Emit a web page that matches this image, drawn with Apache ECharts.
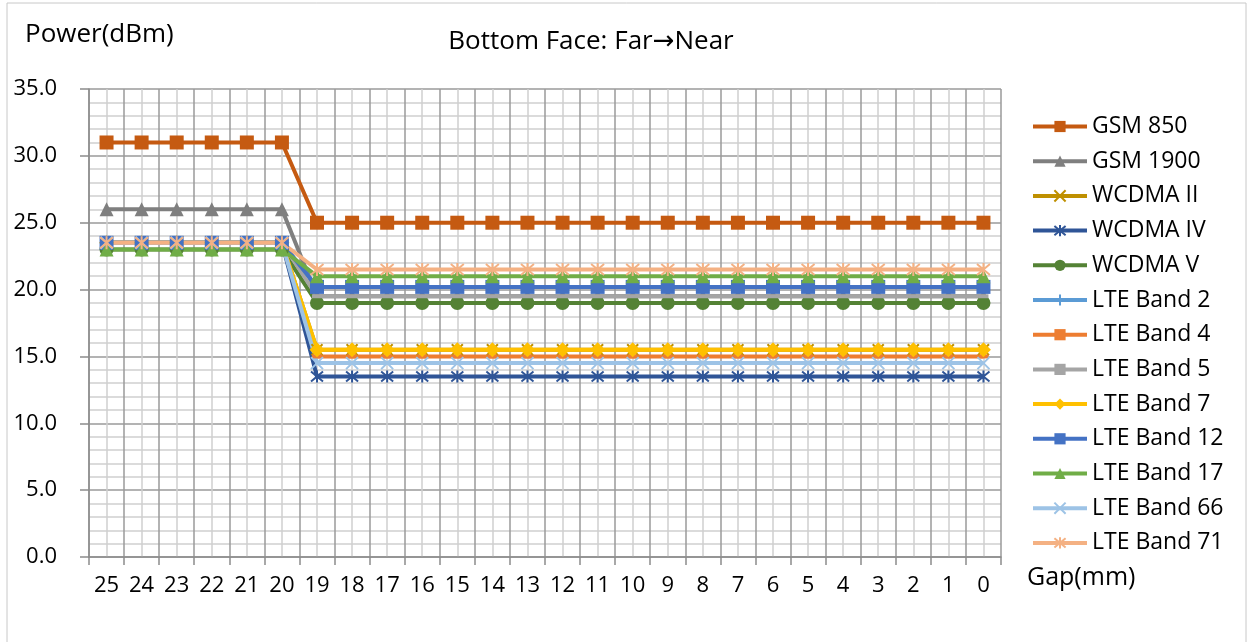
<!DOCTYPE html>
<html>
<head>
<meta charset="utf-8">
<script src="https://cdn.jsdelivr.net/npm/echarts@6/dist/echarts.min.js"></script>
<style>
    html, body { margin: 0; padding: 0; background: #fff; }
    #chart { width: 1253px; height: 642px; }
</style>
</head>
<body>
<div id="chart"></div>
<script>
// x categories, far -> near
var gaps = ['25', '24', '23', '22', '21', '20', '19', '18', '17', '16', '15', '14', '13',
    '12', '11', '10', '9', '8', '7', '6', '5', '4', '3', '2', '1', '0'];
var yTicks = [0, 5, 10, 15, 20, 25, 30, 35];

// power values (dBm), one per gap
var gsm850 = [31, 31, 31, 31, 31, 31, 25, 25, 25, 25, 25, 25, 25, 25, 25, 25, 25, 25, 25, 25, 25, 25, 25, 25, 25, 25];
var gsm1900 = [26, 26, 26, 26, 26, 26, 19.5, 19.5, 19.5, 19.5, 19.5, 19.5, 19.5, 19.5, 19.5, 19.5, 19.5, 19.5, 19.5, 19.5, 19.5, 19.5, 19.5, 19.5, 19.5, 19.5];
var wcdma2 = [23.5, 23.5, 23.5, 23.5, 23.5, 23.5, 15.5, 15.5, 15.5, 15.5, 15.5, 15.5, 15.5, 15.5, 15.5, 15.5, 15.5, 15.5, 15.5, 15.5, 15.5, 15.5, 15.5, 15.5, 15.5, 15.5];
var wcdma4 = [23.5, 23.5, 23.5, 23.5, 23.5, 23.5, 13.5, 13.5, 13.5, 13.5, 13.5, 13.5, 13.5, 13.5, 13.5, 13.5, 13.5, 13.5, 13.5, 13.5, 13.5, 13.5, 13.5, 13.5, 13.5, 13.5];
var wcdma5 = [23, 23, 23, 23, 23, 23, 19, 19, 19, 19, 19, 19, 19, 19, 19, 19, 19, 19, 19, 19, 19, 19, 19, 19, 19, 19];
var lte2 = [23.5, 23.5, 23.5, 23.5, 23.5, 23.5, 20.2, 20.2, 20.2, 20.2, 20.2, 20.2, 20.2, 20.2, 20.2, 20.2, 20.2, 20.2, 20.2, 20.2, 20.2, 20.2, 20.2, 20.2, 20.2, 20.2];
var lte4 = [23.5, 23.5, 23.5, 23.5, 23.5, 23.5, 15, 15, 15, 15, 15, 15, 15, 15, 15, 15, 15, 15, 15, 15, 15, 15, 15, 15, 15, 15];
var lte5 = [23.5, 23.5, 23.5, 23.5, 23.5, 23.5, 19.5, 19.5, 19.5, 19.5, 19.5, 19.5, 19.5, 19.5, 19.5, 19.5, 19.5, 19.5, 19.5, 19.5, 19.5, 19.5, 19.5, 19.5, 19.5, 19.5];
var lte7 = [23.5, 23.5, 23.5, 23.5, 23.5, 23.5, 15.5, 15.5, 15.5, 15.5, 15.5, 15.5, 15.5, 15.5, 15.5, 15.5, 15.5, 15.5, 15.5, 15.5, 15.5, 15.5, 15.5, 15.5, 15.5, 15.5];
var lte12 = [23.5, 23.5, 23.5, 23.5, 23.5, 23.5, 20.2, 20.2, 20.2, 20.2, 20.2, 20.2, 20.2, 20.2, 20.2, 20.2, 20.2, 20.2, 20.2, 20.2, 20.2, 20.2, 20.2, 20.2, 20.2, 20.2];
var lte17 = [23, 23, 23, 23, 23, 23, 21, 21, 21, 21, 21, 21, 21, 21, 21, 21, 21, 21, 21, 21, 21, 21, 21, 21, 21, 21];
var lte66 = [23.5, 23.5, 23.5, 23.5, 23.5, 23.5, 14.5, 14.5, 14.5, 14.5, 14.5, 14.5, 14.5, 14.5, 14.5, 14.5, 14.5, 14.5, 14.5, 14.5, 14.5, 14.5, 14.5, 14.5, 14.5, 14.5];
var lte71 = [23.5, 23.5, 23.5, 23.5, 23.5, 23.5, 21.5, 21.5, 21.5, 21.5, 21.5, 21.5, 21.5, 21.5, 21.5, 21.5, 21.5, 21.5, 21.5, 21.5, 21.5, 21.5, 21.5, 21.5, 21.5, 21.5];

var FONT = '"Open Sans", "DejaVu Sans", sans-serif';
var SYM_X = 'path://M0,0L10,10M10,0L0,10';
var SYM_PLUS = 'path://M5,0L5,10M0,5L10,5';
var SYM_STAR = 'path://M0,0L10,10M10,0L0,10M5,-1L5,11';

//系列定义
var mkSeries = function (name, data, color, symbol, size, stroke) {
    var s = {
        name: name,
        type: 'line',
        data: data,
        symbol: symbol,
        symbolSize: size,
        showSymbol: true,
        lineStyle: {color: color, width: 4},
        itemStyle: {color: color},
        emphasis: {disabled: true},
        animation: false
    };
    if (stroke) {
        s.itemStyle = {color: color, borderColor: color, borderWidth: 2};
    }
    return s;
};

var chart = echarts.init(document.getElementById('chart'));
chart.setOption({
    animation: false,
    grid: {left: 89, right: 252, top: 89, bottom: 85, containLabel: false},
    graphic: [
        {type: 'rect', shape: {x: 7, y: 3, width: 1239, height: 660},
            style: {fill: 'none', stroke: '#c8c8c8', lineWidth: 1}, silent: true},
        {type: 'text', x: 591, y: 42, style: {text: 'Bottom Face: Far\u2192Near', font: '26px ' + FONT,
            fill: '#000', textAlign: 'center', textVerticalAlign: 'middle'}},
        {type: 'text', x: 25, y: 35, style: {text: 'Power(dBm)', font: '26px ' + FONT,
            fill: '#000', textAlign: 'left', textVerticalAlign: 'middle'}},
        {type: 'text', x: 1027, y: 578, style: {text: 'Gap(mm)', font: '25px ' + FONT,
            fill: '#000', textAlign: 'left', textVerticalAlign: 'middle'}}
    ],
    legend: {
        orient: 'vertical',
        left: 1026,
        top: 110,
        itemWidth: 54,
        itemHeight: 14,
        itemGap: 11.7,
        lineStyle: {width: 4},
        textStyle: {fontFamily: FONT, fontSize: 23, color: '#000', lineHeight: 23, padding: [0, 0, 0, 0]},
        selectedMode: false
    },
    xAxis: [{
        type: 'category',
        data: gaps,
        boundaryGap: true,
        axisLine: {lineStyle: {color: '#8c8c8c', width: 1.5}},
        axisTick: {show: true, length: 8, lineStyle: {color: '#8c8c8c', width: 1.5}},
        axisLabel: {fontFamily: FONT, fontSize: 22, color: '#000', margin: 18, interval: 0},
        splitLine: {show: false}
    }, {
        // 网格线用
        type: 'value',
        min: 0,
        max: 26,
        interval: 1,
        position: 'bottom',
        axisLine: {show: false},
        axisTick: {show: false},
        axisLabel: {show: false},
        splitLine: {show: true, lineStyle: {color: '#9a9a9a', width: 1.5}},
        minorTick: {show: false, splitNumber: 2},
        minorSplitLine: {show: true, lineStyle: {color: '#d0d0d0', width: 1.5}}
    }],
    yAxis: {
        type: 'value',
        min: yTicks[0],
        max: yTicks[yTicks.length - 1],
        interval: 5,
        axisLine: {show: true, lineStyle: {color: '#8c8c8c', width: 1.5}},
        axisTick: {show: true, length: 9, lineStyle: {color: '#8c8c8c', width: 1.5}},
        axisLabel: {fontFamily: FONT, fontSize: 22, color: '#000', margin: 32,
            formatter: function (v) { return v.toFixed(1); }},
        splitLine: {show: true, lineStyle: {color: '#9a9a9a', width: 1.5}},
        minorTick: {show: false, splitNumber: 5},
        minorSplitLine: {show: true, lineStyle: {color: '#d0d0d0', width: 1.5}}
    },
    series: [
        mkSeries('GSM 850', gsm850, '#C55A11', 'rect', 14),
        mkSeries('GSM 1900', gsm1900, '#7F7F7F', 'triangle', 14),
        mkSeries('WCDMA II', wcdma2, '#BF9000', SYM_X, 11, true),
        mkSeries('WCDMA IV', wcdma4, '#2F5597', SYM_STAR, 12, true),
        mkSeries('WCDMA V', wcdma5, '#548235', 'circle', 14),
        mkSeries('LTE Band 2', lte2, '#5B9BD5', SYM_PLUS, 12, true),
        mkSeries('LTE Band 4', lte4, '#ED7D31', 'rect', [10, 4]),
        mkSeries('LTE Band 5', lte5, '#A5A5A5', 'rect', [10, 4]),
        mkSeries('LTE Band 7', lte7, '#FFC000', 'diamond', 15),
        mkSeries('LTE Band 12', lte12, '#4472C4', 'rect', 14),
        mkSeries('LTE Band 17', lte17, '#70AD47', 'triangle', 14),
        mkSeries('LTE Band 66', lte66, '#9DC3E6', SYM_X, 12, true),
        mkSeries('LTE Band 71', lte71, '#F4B183', SYM_STAR, 13, true)
    ]
});
</script>
</body>
</html>
